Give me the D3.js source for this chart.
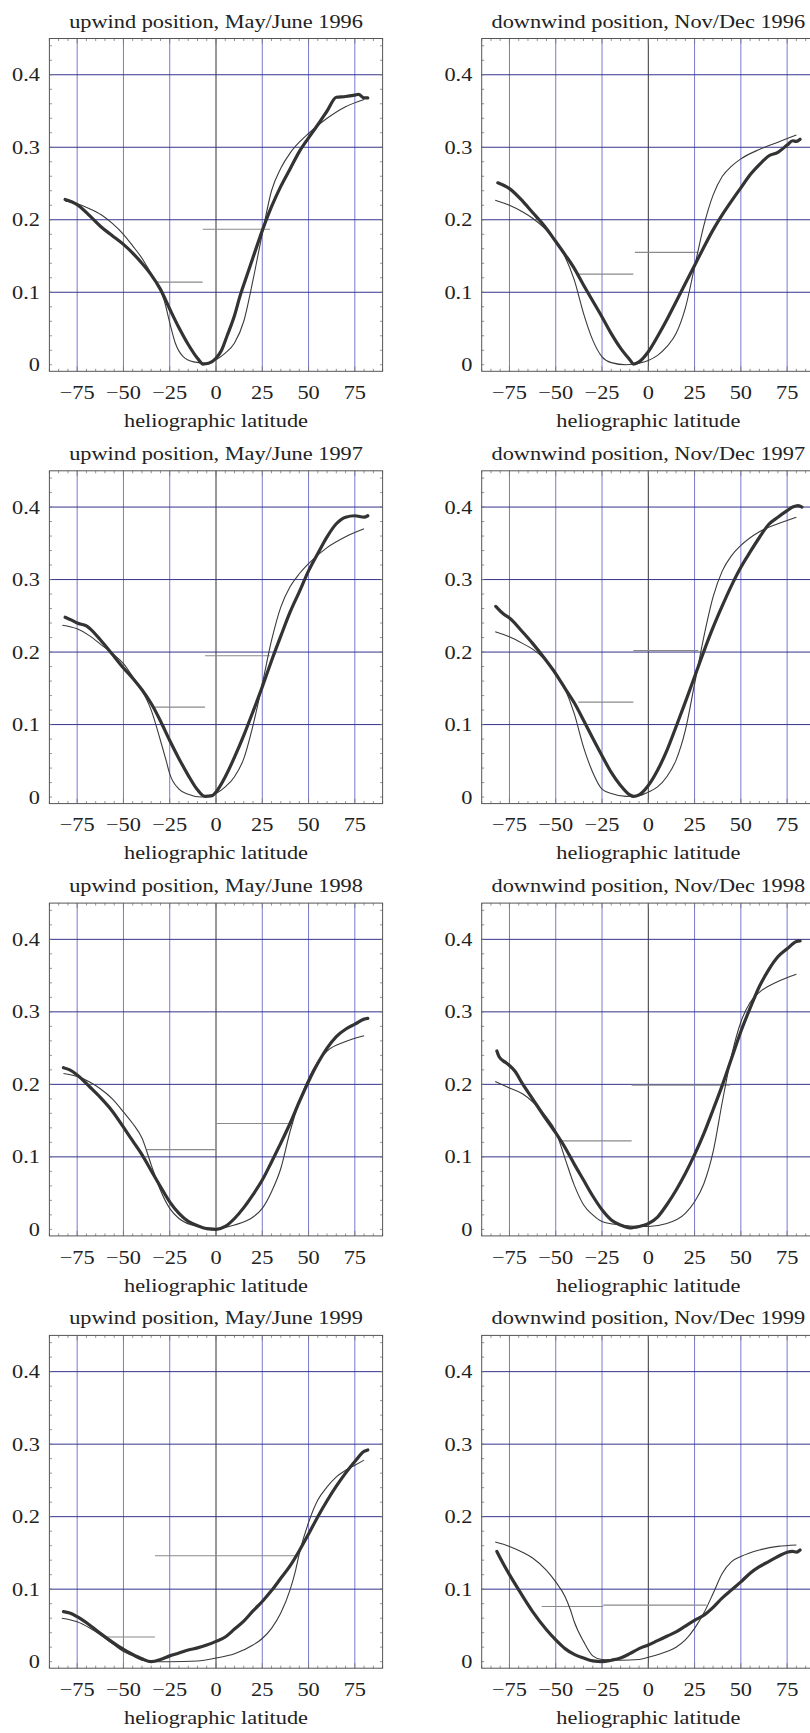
<!DOCTYPE html>
<html><head><meta charset="utf-8">
<script src="https://cdn.jsdelivr.net/npm/d3@7"></script>
<style>body{margin:0;background:#fff}svg{display:block}</style>
</head><body><svg id="c" width="810" height="1733"></svg>
<script>
// ---------- data ----------
const titles = [
  "upwind position, May/June 1996", "downwind position, Nov/Dec 1996",
  "upwind position, May/June 1997", "downwind position, Nov/Dec 1997",
  "upwind position, May/June 1998", "downwind position, Nov/Dec 1998",
  "upwind position, May/June 1999", "downwind position, Nov/Dec 1999"
];
const xTicks = [-75, -50, -25, 0, 25, 50, 75];
const yTicks = [0, 0.1, 0.2, 0.3, 0.4];
const xLabel = "heliographic latitude";

// thick curves (observed) [latitude, value]
const obsUp1996 = [[-81.5,0.228],[-75,0.221],[-68,0.205],[-62,0.190],[-56,0.178],[-50,0.166],[-45,0.154],[-40,0.140],[-35,0.124],[-30,0.104],[-25,0.077],[-20,0.051],[-15,0.028],[-10,0.009],[-7,0.001],[-4,0.002],[0,0.009],[3,0.020],[6,0.040],[10,0.068],[13,0.095],[16,0.118],[20,0.148],[25,0.185],[30,0.218],[35,0.246],[40,0.270],[45,0.294],[50,0.313],[55,0.331],[60,0.350],[65,0.369],[70,0.370],[75,0.372],[77,0.373],[80,0.368],[82,0.368]];
const obsDown1996 = [[-81.3,0.251],[-75,0.243],[-68,0.226],[-62.5,0.210],[-56,0.191],[-50,0.170],[-45,0.152],[-40,0.133],[-35,0.110],[-30,0.088],[-25,0.066],[-20,0.043],[-15,0.023],[-10,0.007],[-8,0.001],[-5,0.004],[0,0.018],[5,0.039],[10,0.062],[15,0.087],[20,0.112],[25,0.137],[30,0.162],[35,0.186],[40,0.207],[45,0.226],[50,0.244],[55,0.262],[60,0.276],[65,0.288],[70,0.293],[75,0.303],[78,0.309],[80,0.308],[82,0.311]];
const obsUp1997 = [[-81.5,0.248],[-78,0.244],[-75,0.240],[-70,0.236],[-62.5,0.217],[-56,0.197],[-50,0.178],[-45,0.164],[-40,0.148],[-35,0.129],[-30,0.105],[-25,0.078],[-20,0.053],[-15,0.030],[-10,0.010],[-6,0.001],[-2,0.002],[0,0.007],[5,0.028],[10,0.055],[15,0.085],[20,0.118],[25,0.152],[30,0.188],[35,0.222],[40,0.255],[45,0.283],[50,0.312],[55,0.336],[60,0.359],[65,0.377],[70,0.386],[75,0.388],[80,0.386],[82,0.388]];
const obsDown1997 = [[-82.4,0.263],[-78,0.252],[-75,0.247],[-68,0.228],[-62.5,0.212],[-56,0.191],[-50,0.170],[-45,0.150],[-40,0.130],[-35,0.106],[-30,0.081],[-25,0.057],[-20,0.034],[-15,0.016],[-10,0.003],[-8,0.001],[-5,0.003],[0,0.016],[5,0.037],[10,0.064],[15,0.097],[20,0.131],[25,0.166],[30,0.201],[35,0.234],[40,0.264],[45,0.292],[50,0.317],[55,0.338],[60,0.358],[65,0.376],[70,0.386],[75,0.395],[78,0.400],[81,0.402],[83,0.400]];
const obsUp1998 = [[-82.4,0.223],[-79,0.220],[-75,0.213],[-68,0.196],[-62.5,0.182],[-56,0.163],[-50,0.141],[-45,0.122],[-40,0.103],[-35,0.081],[-30,0.059],[-25,0.038],[-20,0.022],[-15,0.011],[-10,0.005],[-5,0.001],[0,0.000],[5,0.004],[10,0.015],[15,0.030],[20,0.048],[25,0.068],[30,0.093],[35,0.119],[40,0.146],[45,0.176],[50,0.204],[55,0.229],[60,0.250],[65,0.266],[70,0.276],[75,0.283],[80,0.290],[82,0.291]];
const obsDown1998 = [[-81.8,0.246],[-80.6,0.238],[-77,0.230],[-75,0.226],[-72,0.218],[-68,0.201],[-62.5,0.180],[-56,0.155],[-50,0.133],[-45,0.113],[-40,0.090],[-35,0.068],[-30,0.046],[-25,0.027],[-20,0.013],[-15,0.006],[-10,0.002],[-5,0.004],[0,0.008],[5,0.017],[10,0.034],[15,0.054],[20,0.077],[25,0.103],[30,0.132],[35,0.165],[40,0.199],[45,0.236],[50,0.273],[55,0.305],[60,0.335],[65,0.358],[70,0.376],[75,0.387],[80,0.397],[82,0.398]];
const obsUp1999 = [[-82.4,0.069],[-79,0.067],[-75,0.062],[-68,0.050],[-62.5,0.039],[-56,0.027],[-50,0.017],[-45,0.010],[-40,0.004],[-35,0.000],[-30,0.003],[-25,0.008],[-20,0.012],[-15,0.016],[-10,0.019],[-5,0.023],[0,0.028],[5,0.034],[10,0.045],[15,0.056],[20,0.070],[25,0.083],[30,0.098],[35,0.115],[40,0.132],[45,0.153],[50,0.176],[55,0.200],[60,0.222],[65,0.242],[70,0.260],[75,0.276],[80,0.290],[82,0.292]];
const obsDown1999 = [[-81.8,0.152],[-80,0.143],[-75,0.120],[-70,0.099],[-62.5,0.069],[-55,0.044],[-50,0.030],[-45,0.018],[-40,0.010],[-35,0.005],[-30,0.001],[-25,0.000],[-20,0.002],[-15,0.005],[-10,0.011],[-5,0.018],[0,0.023],[5,0.029],[10,0.035],[15,0.041],[20,0.049],[25,0.057],[30,0.064],[35,0.075],[40,0.088],[45,0.099],[50,0.110],[55,0.122],[60,0.131],[65,0.138],[70,0.145],[75,0.151],[78,0.152],[80,0.151],[82,0.154]];

// thin curves (model)
const modUp1996 = [[-81.5,0.226],[-75,0.222],[-68,0.215],[-62,0.207],[-56,0.195],[-50,0.180],[-45,0.164],[-40,0.147],[-36,0.130],[-32,0.112],[-28,0.089],[-25,0.058],[-22,0.030],[-18,0.012],[-12,0.004],[-5,0.002],[0,0.007],[5,0.016],[10,0.030],[15,0.060],[20,0.117],[25,0.181],[30,0.240],[35,0.271],[40,0.292],[45,0.307],[50,0.319],[60,0.340],[70,0.356],[80,0.366]];
const modDown1996 = [[-82.7,0.227],[-75,0.220],[-68,0.211],[-62.5,0.202],[-56,0.188],[-50,0.170],[-45,0.149],[-40,0.117],[-35,0.071],[-30,0.034],[-25,0.011],[-20,0.003],[-12,0.000],[-5,0.002],[0,0.006],[5,0.013],[10,0.025],[15,0.043],[20,0.078],[25,0.135],[30,0.192],[35,0.234],[40,0.260],[45,0.274],[50,0.284],[60,0.297],[70,0.307],[80,0.317]];
const modUp1997 = [[-83,0.237],[-75,0.232],[-68,0.222],[-62.5,0.211],[-56,0.198],[-50,0.184],[-45,0.166],[-40,0.147],[-35,0.120],[-30,0.078],[-27,0.051],[-25,0.032],[-20,0.011],[-15,0.004],[-8,0.000],[0,0.005],[5,0.014],[10,0.028],[15,0.053],[20,0.099],[25,0.156],[30,0.216],[35,0.262],[40,0.290],[45,0.308],[50,0.322],[60,0.344],[70,0.359],[80,0.370]];
const modDown1997 = [[-82.7,0.228],[-75,0.221],[-68,0.212],[-62.5,0.204],[-56,0.190],[-50,0.172],[-45,0.149],[-40,0.115],[-35,0.069],[-30,0.034],[-25,0.011],[-20,0.005],[-12,0.001],[-5,0.002],[0,0.007],[5,0.014],[10,0.028],[15,0.051],[20,0.092],[25,0.156],[30,0.221],[35,0.276],[40,0.312],[45,0.333],[50,0.347],[60,0.366],[70,0.377],[80,0.386]];
const modUp1998 = [[-82.4,0.215],[-75,0.211],[-68,0.203],[-62.5,0.194],[-56,0.180],[-50,0.162],[-45,0.146],[-40,0.126],[-35,0.089],[-30,0.054],[-25,0.029],[-20,0.015],[-10,0.004],[0,0.001],[10,0.006],[20,0.017],[25,0.029],[30,0.052],[35,0.084],[40,0.135],[45,0.176],[50,0.208],[55,0.231],[60,0.246],[70,0.259],[80,0.267]];
const modDown1998 = [[-82.7,0.204],[-75,0.195],[-68,0.187],[-62.5,0.176],[-56,0.158],[-50,0.135],[-45,0.098],[-40,0.061],[-35,0.034],[-30,0.020],[-25,0.011],[-15,0.006],[-5,0.004],[0,0.004],[10,0.008],[20,0.022],[25,0.038],[30,0.063],[35,0.107],[40,0.176],[45,0.240],[50,0.286],[55,0.313],[60,0.327],[70,0.342],[80,0.352]];
const modUp1999 = [[-83.3,0.060],[-75,0.055],[-68,0.046],[-62.5,0.037],[-56,0.025],[-50,0.014],[-45,0.008],[-40,0.002],[-35,0.000],[-25,0.000],[-10,0.001],[0,0.005],[10,0.011],[20,0.023],[25,0.032],[30,0.046],[35,0.067],[40,0.099],[43,0.126],[45,0.149],[50,0.192],[55,0.223],[60,0.241],[65,0.255],[70,0.264],[75,0.271],[80,0.278]];
const modDown1999 = [[-82.7,0.165],[-75,0.159],[-68,0.151],[-62.5,0.143],[-55,0.126],[-50,0.110],[-45,0.090],[-42,0.071],[-40,0.055],[-35,0.028],[-30,0.008],[-25,0.003],[-15,0.002],[-5,0.003],[0,0.006],[10,0.014],[15,0.020],[20,0.030],[25,0.046],[30,0.067],[35,0.094],[40,0.122],[45,0.138],[50,0.145],[60,0.154],[70,0.159],[80,0.161]];

// horizontal mean segments [from, to, value]
const segUp1996 = [[-32,-7.2,0.114],[-7.2,29.2,0.187]];
const segDown1996 = [[-37.4,-8.1,0.125],[-7.2,27,0.155]];
const segUp1997 = [[-33.8,-5.9,0.124],[-5.9,29.1,0.195]];
const segDown1997 = [[-37.8,-8.1,0.131],[-8.1,27,0.202]];
const segUp1998 = [[-37.4,0,0.110],[0,41.7,0.146]];
const segDown1998 = [[-46.8,-9,0.122],[-9,44,0.199]];
const segUp1999 = [[-59,-33,0.034],[-33,43.5,0.146]];
const segDown1999 = [[-57.6,-24.3,0.076],[-24.3,31.5,0.078]];

const observed = [obsUp1996, obsDown1996, obsUp1997, obsDown1997, obsUp1998, obsDown1998, obsUp1999, obsDown1999];
const model = [modUp1996, modDown1996, modUp1997, modDown1997, modUp1998, modDown1998, modUp1999, modDown1999];
const segments = [segUp1996, segDown1996, segUp1997, segDown1997, segUp1998, segDown1998, segUp1999, segDown1999];

// ---------- drawing ----------
const svg = d3.select("#c");
const STEP = 432.3;
const FONT = "'Liberation Serif','Times New Roman',serif";
const FS = 18.6, SX = 1.2;
const x = d3.scaleLinear().domain([-90, 90]).range([49.4, 382.6]);
const y = d3.scaleLinear().domain([-0.009, 0.45]).range([371.3, 38.5]);
const fmtX = d => d < 0 ? "\u2212" + Math.abs(d) : String(d);
const fmtY = d => d === 0 ? "0" : d3.format(".1f")(d);

function txt(g, str, tx, ty, anchor) {
  g.append("text").attr("transform", `translate(${tx},${ty}) scale(${SX},1)`)
    .attr("text-anchor", anchor).attr("font-family", FONT).attr("font-size", FS)
    .attr("fill", "#222").text(str);
}

titles.forEach((t, k) => {
  const r = Math.floor(k / 2), c = k % 2;
  const g = svg.append("g").attr("transform", `translate(${c * STEP},${r * STEP})`);
  const [x0, x1] = x.range(), [yb, yt] = y.range();

  // vertical grid
  g.selectAll(".vg").data(xTicks).enter().append("line")
    .attr("x1", d => x(d)).attr("x2", d => x(d)).attr("y1", yt).attr("y2", yb)
    .attr("stroke", d => d === 0 ? "#333" : "#7a7ad0").attr("stroke-width", 1);
  // horizontal grid
  g.selectAll(".hg").data(yTicks.filter(d => d > 0)).enter().append("line")
    .attr("x1", x0).attr("x2", x1).attr("y1", d => y(d)).attr("y2", d => y(d))
    .attr("stroke", "#34348c").attr("stroke-width", 1);

  // frame minor ticks
  const minX = d3.range(-90, 91, 5), minY = d3.range(0, 0.451, 0.02);
  g.selectAll(".mxb").data(minX).enter().append("line")
    .attr("x1", d => x(d)).attr("x2", d => x(d)).attr("y1", yb).attr("y2", d => yb - (d % 25 === 0 ? 5 : 2.5))
    .attr("stroke", "#777").attr("stroke-width", 0.8);
  g.selectAll(".mxt").data(minX).enter().append("line")
    .attr("x1", d => x(d)).attr("x2", d => x(d)).attr("y1", yt).attr("y2", d => yt + (d % 25 === 0 ? 5 : 2.5))
    .attr("stroke", "#777").attr("stroke-width", 0.8);
  g.selectAll(".myl").data(minY).enter().append("line")
    .attr("x1", x0).attr("x2", x0 + 2.5).attr("y1", d => y(d)).attr("y2", d => y(d))
    .attr("stroke", "#777").attr("stroke-width", 0.8);
  g.selectAll(".myr").data(minY).enter().append("line")
    .attr("x1", x1).attr("x2", x1 - 2.5).attr("y1", d => y(d)).attr("y2", d => y(d))
    .attr("stroke", "#777").attr("stroke-width", 0.8);

  // frame
  g.append("rect").attr("x", x0).attr("y", yt).attr("width", x1 - x0).attr("height", yb - yt)
    .attr("fill", "none").attr("stroke", "#555").attr("stroke-width", 1);

  // segments
  g.selectAll(".seg").data(segments[k]).enter().append("line")
    .attr("x1", d => x(d[0])).attr("x2", d => x(d[1]))
    .attr("y1", d => y(d[2])).attr("y2", d => y(d[2]))
    .attr("stroke", "#8a8a8a").attr("stroke-width", 1.1);

  const line = d3.line().x(d => x(d[0])).y(d => y(d[1])).curve(d3.curveMonotoneX);
  g.append("path").attr("d", line(model[k])).attr("fill", "none")
    .attr("stroke", "#3a3a3a").attr("stroke-width", 1.1);
  g.append("path").attr("d", line(observed[k])).attr("fill", "none")
    .attr("stroke", "#333").attr("stroke-width", 3.2).attr("stroke-linejoin", "round").attr("stroke-linecap", "round");

  // labels
  txt(g, t, 216, 27.5, "middle");
  yTicks.forEach(v => txt(g, fmtY(v), 40, y(v) + 6.5, "end"));
  xTicks.forEach(v => txt(g, fmtX(v), x(v), 399, "middle"));
  txt(g, xLabel, 216, 427, "middle");
});
</script></body></html>
